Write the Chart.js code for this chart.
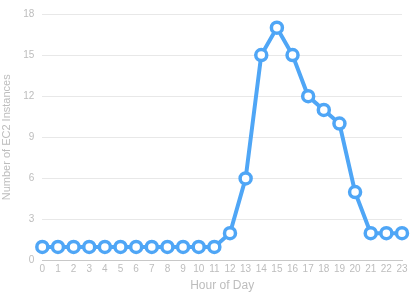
<!DOCTYPE html>
<html>
<head>
<meta charset="utf-8">
<script src="https://cdn.jsdelivr.net/npm/chart.js@4"></script>
<style>
html, body { margin: 0; padding: 0; background: #fff; }
#wrap { width: 411px; height: 293px; }
</style>
</head>
<body>
<div id="wrap"><canvas id="chart"></canvas></div>
<script>
// chart data
const hours = ["0","1","2","3","4","5","6","7","8","9","10","11","12","13","14","15","16","17","18","19","20","21","22","23"];
const instances = [1,1,1,1,1,1,1,1,1,1,1,1,2,6,15,17,15,12,11,10,5,2,2,2];
const yTicks = [0, 3, 6, 9, 12, 15, 18];

const blue = "#4fa6f6";
const labelGrey = "#bdbdbd";

Chart.defaults.font.family = "'Liberation Sans', Arial, sans-serif";

const ctx = document.getElementById("chart").getContext("2d");

new Chart(ctx, {
type: "line",
data: {
labels: hours,
datasets: [{
data: instances,
borderColor: blue,
borderWidth: 4,
backgroundColor: "#fff",
pointBackgroundColor: "#fff",
pointBorderColor: blue,
pointBorderWidth: 3.5,
pointRadius: 5.5,
tension: 0,
fill: false
}]
},
options: {
responsive: true,
maintainAspectRatio: false,
animation: false,
layout: { padding: { top: 0, right: 4, left: 0, bottom: 0 } },
plugins: {
legend: { display: false },
tooltip: { enabled: false }
},
scales: {
x: {
offset: false,
grid: { display: false, drawTicks: false },
border: { color: "#c8c8c8", width: 1 },
ticks: { color: labelGrey, font: { size: 10 }, padding: 3, maxRotation: 0, autoSkip: false },
title: { display: true, text: "Hour of Day", color: labelGrey, font: { size: 12 }, padding: { top: 0, bottom: 0 } }
},
y: {
min: 0,
max: 18,
afterBuildTicks: (axis) => { axis.ticks = yTicks.map(v => ({ value: v })); },
grid: { color: "#e8e8e8", drawTicks: false },
border: { display: false },
ticks: { color: labelGrey, font: { size: 10 }, padding: 8 },
title: { display: true, text: "Number of EC2 Instances", color: labelGrey, font: { size: 11 }, padding: { top: 0, bottom: 2 } }
}
}
}
});
</script>
</body>
</html>
